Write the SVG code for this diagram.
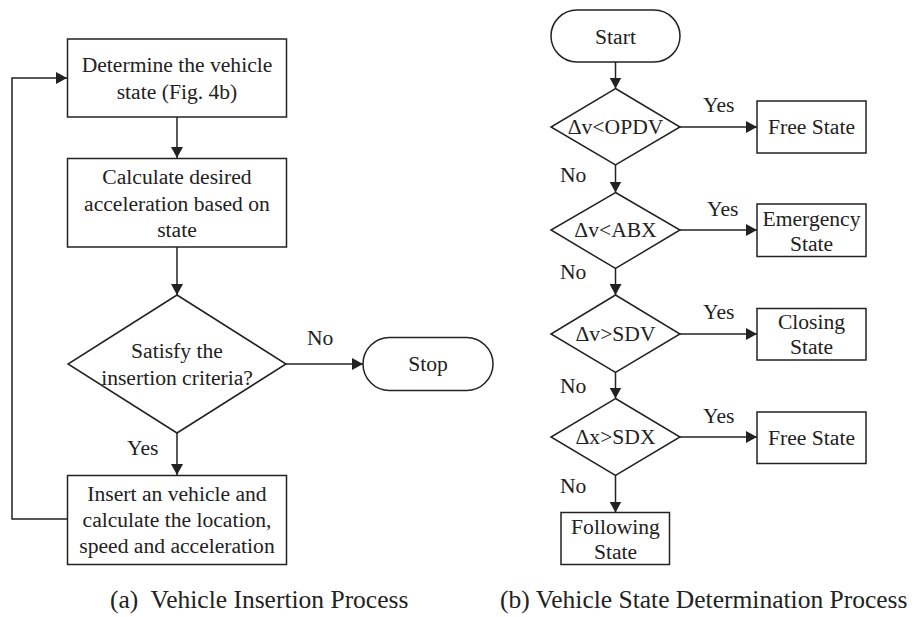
<svg xmlns="http://www.w3.org/2000/svg" width="915" height="617" viewBox="0 0 915 617" font-family="'Liberation Serif', 'Times New Roman', serif">
<style>
.s{fill:#fff;stroke:#222;stroke-width:1.5}
.c{fill:none;stroke:#222;stroke-width:1.5}
.t{font-family:"Liberation Serif","Times New Roman",serif;font-size:21.6px;fill:#222}
.m{text-anchor:middle}
.cap{font-family:"Liberation Serif","Times New Roman",serif;font-size:25.5px;fill:#222}
</style>
<defs>
<marker id="ah" markerUnits="userSpaceOnUse" markerWidth="12" markerHeight="12" refX="11" refY="6" orient="auto">
<path d="M0,0 L11,6 L0,12 Z" fill="#222"/>
</marker>
</defs>
<rect width="915" height="617" fill="#fff"/>

<g id="connectors">
<line class="c" x1="177" y1="117" x2="177" y2="158" marker-end="url(#ah)"/>
<line class="c" x1="177" y1="247" x2="177" y2="295" marker-end="url(#ah)"/>
<line class="c" x1="286" y1="364" x2="363" y2="364" marker-end="url(#ah)"/>
<line class="c" x1="177" y1="433" x2="177" y2="475" marker-end="url(#ah)"/>
<polyline class="c" points="67,519 12,519 12,78 67,78" marker-end="url(#ah)"/>
<line class="c" x1="615.5" y1="62" x2="615.5" y2="88.5" marker-end="url(#ah)"/>
<line class="c" x1="680" y1="127" x2="757" y2="127" marker-end="url(#ah)"/>
<line class="c" x1="615.5" y1="165" x2="615.5" y2="192.5" marker-end="url(#ah)"/>
<line class="c" x1="680" y1="230" x2="757" y2="230" marker-end="url(#ah)"/>
<line class="c" x1="615.5" y1="268.5" x2="615.5" y2="295" marker-end="url(#ah)"/>
<line class="c" x1="680" y1="334" x2="757" y2="334" marker-end="url(#ah)"/>
<line class="c" x1="615.5" y1="372.5" x2="615.5" y2="398.5" marker-end="url(#ah)"/>
<line class="c" x1="680" y1="437" x2="757" y2="437" marker-end="url(#ah)"/>
<line class="c" x1="615.5" y1="475.5" x2="615.5" y2="512.5" marker-end="url(#ah)"/>
<text class="t" x="307" y="345">No</text>
<text class="t" x="127" y="455">Yes</text>
<text class="t" x="703" y="112">Yes</text>
<text class="t" x="560" y="182">No</text>
<text class="t" x="707" y="216">Yes</text>
<text class="t" x="560" y="279">No</text>
<text class="t" x="703" y="319">Yes</text>
<text class="t" x="560" y="393">No</text>
<text class="t" x="703" y="423">Yes</text>
<text class="t" x="560" y="493">No</text>
</g>

<g id="determine">
<rect class="s" x="67.5" y="39" width="219" height="78"/>
<text class="t m" x="177" y="72">Determine the vehicle</text>
<text class="t m" x="177" y="99">state (Fig. 4b)</text>
</g>
<g id="calculate">
<rect class="s" x="67.5" y="158.5" width="219" height="88.5"/>
<text class="t m" x="177" y="184">Calculate desired</text>
<text class="t m" x="177" y="211">acceleration based on</text>
<text class="t m" x="177" y="237">state</text>
</g>
<g id="satisfy">
<polygon class="s" points="177,295 286,364 177,433 68,364"/>
<text class="t m" x="177" y="358">Satisfy the</text>
<text class="t m" x="177" y="385">insertion criteria?</text>
</g>
<g id="stop">
<rect class="s" x="363" y="337.5" width="130" height="53" rx="26.5" ry="26.5"/>
<text class="t m" x="428" y="371">Stop</text>
</g>
<g id="insert">
<rect class="s" x="67.5" y="475.5" width="219" height="89"/>
<text class="t m" x="177" y="501">Insert an vehicle and</text>
<text class="t m" x="177" y="527">calculate the location,</text>
<text class="t m" x="177" y="553">speed and acceleration</text>
</g>

<g id="start">
<rect class="s" x="551" y="10" width="129" height="52" rx="26" ry="26"/>
<text class="t m" x="615.5" y="44">Start</text>
</g>
<g id="d1">
<polygon class="s" points="615.5,88.5 680,127 615.5,165 551,127"/>
<text class="t m" x="615.5" y="134">Δv&lt;OPDV</text>
</g>
<g id="free1">
<rect class="s" x="757" y="101" width="109" height="52"/>
<text class="t m" x="811.5" y="134">Free State</text>
</g>
<g id="d2">
<polygon class="s" points="615.5,192.5 680,230 615.5,268.5 551,230"/>
<text class="t m" x="615.5" y="237">Δv&lt;ABX</text>
</g>
<g id="emergency">
<rect class="s" x="757" y="204" width="109" height="52.5"/>
<text class="t m" x="811.5" y="226">Emergency</text>
<text class="t m" x="811.5" y="251">State</text>
</g>
<g id="d3">
<polygon class="s" points="615.5,295 680,334 615.5,372.5 551,334"/>
<text class="t m" x="615.5" y="341">Δv&gt;SDV</text>
</g>
<g id="closing">
<rect class="s" x="757" y="308.5" width="109" height="51.5"/>
<text class="t m" x="811.5" y="329">Closing</text>
<text class="t m" x="811.5" y="354">State</text>
</g>
<g id="d4">
<polygon class="s" points="615.5,398.5 680,437 615.5,475.5 551,437"/>
<text class="t m" x="615.5" y="444">Δx&gt;SDX</text>
</g>
<g id="free2">
<rect class="s" x="757" y="412" width="109" height="51.5"/>
<text class="t m" x="811.5" y="445">Free State</text>
</g>
<g id="following">
<rect class="s" x="561" y="512.5" width="108.5" height="52"/>
<text class="t m" x="615.5" y="534">Following</text>
<text class="t m" x="615.5" y="559">State</text>
</g>

<text class="cap" x="110" y="608" xml:space="preserve">(a)  Vehicle Insertion Process</text>
<text class="cap" x="500" y="608">(b) Vehicle State Determination Process</text>
</svg>
